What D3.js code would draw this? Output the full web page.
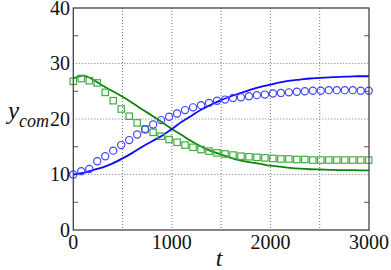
<!DOCTYPE html>
<html><head><meta charset="utf-8">
<script src="https://cdn.jsdelivr.net/npm/d3@7"></script>
</head><body style="margin:0">
<script>
// Line (model) series sampled every 100 time units
const tLine = [0,100,200,300,400,500,600,700,800,900,1000,1100,1200,1300,1400,1500,1600,1700,1800,1900,2000,2100,2200,2300,2400,2500,2600,2700,2800,2900,3000];
const blueLine = [10.0,10.3,10.8,11.3,12.0,12.9,13.9,15.0,16.0,17.0,18.2,19.5,20.6,21.7,22.6,23.4,24.1,24.7,25.3,25.8,26.2,26.6,26.9,27.1,27.3,27.4,27.5,27.6,27.65,27.7,27.7];
const greenLine = [27.3,27.8,27.1,26.0,25.0,24.0,22.9,21.7,20.6,19.4,18.2,17.1,16.0,15.0,14.2,13.6,13.0,12.5,12.2,11.9,11.6,11.4,11.2,11.05,10.95,10.9,10.85,10.8,10.8,10.75,10.75];
// Marker (simulation) series
const tMarkers = [0,81,162,243,324,405,486,567,648,729,810,891,972,1053,1134,1215,1296,1377,1458,1539,1620,1701,1782,1863,1944,2025,2106,2187,2268,2349,2430,2511,2592,2673,2754,2835,2916,2997];
const blueCircles = [10.0,10.6,11.0,12.4,13.3,14.3,15.3,16.2,17.2,18.1,19.0,19.8,20.4,21.0,21.6,22.1,22.5,22.9,23.3,23.5,23.8,23.9,24.1,24.3,24.4,24.6,24.7,24.8,24.9,25.0,25.1,25.1,25.2,25.2,25.2,25.2,25.1,25.1];
const greenSquares = [26.8,27.3,26.9,26.5,24.8,23.3,21.8,20.5,19.3,18.2,17.6,16.9,16.3,15.8,15.3,14.9,14.5,14.2,13.9,13.7,13.5,13.3,13.2,13.1,13.0,12.9,12.8,12.8,12.7,12.7,12.6,12.6,12.6,12.6,12.6,12.6,12.6,12.6];
const xTicks = ["0","1000","2000","3000"];
const xGrid = [500,1000,1500,2000,2500];
const yTicks = ["0","10","20","30","40"];
const yGrid = [10,20,30];
const yMinor = [5,15,25,35];

const W = 391, H = 270;
const L = 73.3, R = 369, T = 8, B = 230;
const x = d3.scaleLinear().domain([0,3000]).range([L,R]);
const y = d3.scaleLinear().domain([0,40]).range([B,T]);

const svg = d3.select("body").append("svg").attr("width",W).attr("height",H)
  .style("display","block");

// grid
const g = svg.append("g");
g.selectAll(".gx").data(xGrid).enter().append("line")
  .attr("x1",d=>x(d)).attr("x2",d=>x(d)).attr("y1",T).attr("y2",B)
  .attr("stroke","#777").attr("stroke-width",1).attr("stroke-dasharray","1,2");
g.selectAll(".gy").data(yGrid).enter().append("line")
  .attr("x1",L).attr("x2",R).attr("y1",d=>y(d)).attr("y2",d=>y(d))
  .attr("stroke","#777").attr("stroke-width",1).attr("stroke-dasharray","1,2");

// minor inward ticks on left and right
g.selectAll(".ml").data(yMinor).enter().append("line")
  .attr("x1",L).attr("x2",L+5).attr("y1",d=>y(d)).attr("y2",d=>y(d))
  .attr("stroke","#555").attr("stroke-width",1);
g.selectAll(".mr").data(yMinor).enter().append("line")
  .attr("x1",R-5).attr("x2",R).attr("y1",d=>y(d)).attr("y2",d=>y(d))
  .attr("stroke","#555").attr("stroke-width",1);

const plot = svg.append("g");
const lineGen = arr => d3.line().x((d,i)=>x(tLine[i])).y(d=>y(d)).curve(d3.curveMonotoneX)(arr);
plot.append("path").attr("d",lineGen(greenLine)).attr("fill","none").attr("stroke","#088808").attr("stroke-width",1.8);
plot.append("path").attr("d",lineGen(blueLine)).attr("fill","none").attr("stroke","#0a0aff").attr("stroke-width",1.8);

plot.selectAll(".sq").data(greenSquares).enter().append("rect")
  .attr("x",(d,i)=>x(tMarkers[i])-3.2).attr("y",d=>y(d)-3.2).attr("width",6.4).attr("height",6.4)
  .attr("fill","none").attr("stroke","#44aa44").attr("stroke-width",1.2);
plot.selectAll(".ci").data(blueCircles).enter().append("circle")
  .attr("cx",(d,i)=>x(tMarkers[i])).attr("cy",d=>y(d)).attr("r",3.6)
  .attr("fill","none").attr("stroke","#4444ff").attr("stroke-width",1.2);

svg.append("rect").attr("x",L).attr("y",T).attr("width",R-L).attr("height",B-T)
  .attr("fill","none").attr("stroke","#444").attr("stroke-width",1.3);

// tick labels
const txt = (sel) => sel.attr("font-family","Liberation Serif").style("font-family","'Liberation Serif'");
svg.selectAll(".xl").data(xTicks).enter().append("text")
  .attr("x",(d)=>x(+d)).attr("y",249).attr("text-anchor","middle")
  .attr("font-size",20).attr("fill","#111").call(txt).text(d=>d);
svg.selectAll(".yl").data(yTicks).enter().append("text")
  .attr("x",70).attr("y",d=>y(+d)+6.5).attr("text-anchor","end")
  .attr("font-size",20).attr("fill","#111").call(txt).text(d=>d);

// axis labels
const yl = svg.append("text").attr("x",8).attr("y",119).attr("font-style","italic").attr("fill","#111").call(txt);
yl.append("tspan").attr("font-size",25).call(txt).text("y");
yl.append("tspan").attr("font-size",18).attr("dy",8).call(txt).text("com");
svg.append("text").attr("x",219).attr("y",266).attr("text-anchor","middle")
  .attr("font-style","italic").attr("font-size",24).attr("fill","#111").call(txt).text("t");
</script>
</body></html>
